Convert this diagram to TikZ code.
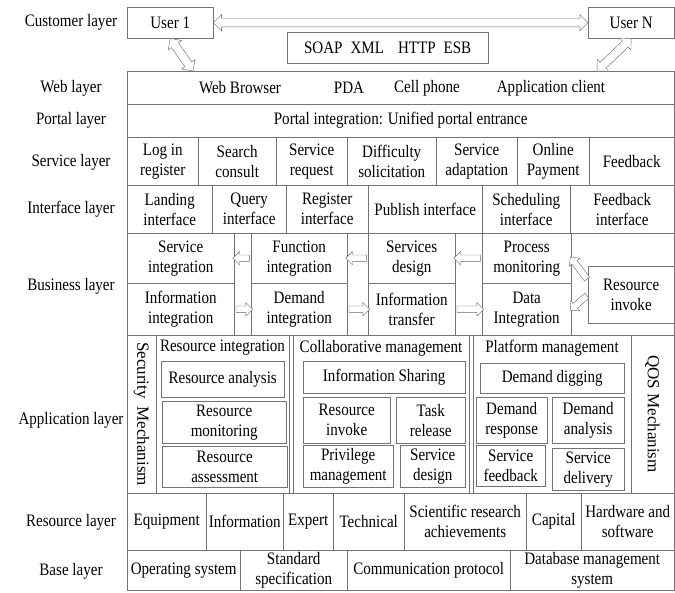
\documentclass[tikz,border=0pt]{standalone}
\usepackage{fontspec}
\setmainfont[FakeStretch=0.86]{Liberation Serif}
\newfontfamily\sidefont{Liberation Serif}
\usetikzlibrary{calc,shapes.arrows,shadows}

\tikzset{
  cell/.style={draw=black!55, inner sep=0pt, align=center, anchor=north west},
  box/.style={cell, fill=white, drop shadow={shadow xshift=1pt, shadow yshift=-1pt, fill=black!30}},
  layer/.style={align=center},
  fatarrow/.style={draw=black!60, fill=white, single arrow, single arrow head extend=3.5pt, single arrow tip angle=90, inner sep=3pt},
  twinarrow/.style={draw=black!60, fill=white, double arrow, double arrow head extend=4pt, double arrow tip angle=90, inner sep=4pt}
}

% hollow arrow laid from one point to another
\newcommand{\fatlink}[3][fatarrow]{%
  \path let \p1=($(#3)-(#2)$) in (#2) -- node[#1, sloped, allow upside down, minimum height={veclen(\x1,\y1)}] {} (#3);}

\begin{document}
\begin{tikzpicture}[x=1pt, y=-1pt, font=\fontsize{17.5}{20}\selectfont]
  \useasboundingbox (0,0) rectangle (675,592);

  % layer names
  \node[layer] (lcustomer) at (71,22.5) {Customer layer};
  \node[layer] (lweb) at (71,88) {Web layer};
  \node[layer] (lportal) at (71,120) {Portal layer};
  \node[layer] (lservice) at (71,162) {Service layer};
  \node[layer] (linterface) at (71,209) {Interface layer};
  \node[layer] (lbusiness) at (71,286) {Business layer};
  \node[layer] (lapplication) at (71,420) {Application layer};
  \node[layer] (lresource) at (71,522) {Resource layer};
  \node[layer] (lbase) at (71,571) {Base layer};

  % customers
  \node[cell, minimum width=86, minimum height=31] (user1) at (127,7) {User 1};
  \node[cell, minimum width=86, minimum height=31] (userN) at (588,7) {User N};
  \node[cell, minimum width=201, minimum height=31] (soap) at (287,32) {SOAP\hspace{8pt}XML\hspace{14pt}HTTP\hspace{8pt}ESB};

  % web and portal
  \node[cell, minimum width=547, minimum height=33] (webrow) at (127,71) {};
  \node (browser) at (240,88) {Web Browser};
  \node (pda) at (349,88) {PDA};
  \node (cellphone) at (427,88) {Cell phone};
  \node (appclient) at (551,88) {Application client};
  \node[cell, minimum width=547, minimum height=33] (portal) at (127,104) {Portal integration: Unified portal entrance};

  % service layer
  \node[cell, minimum width=71, minimum height=48] (login) at (127,137) {Log in\\register};
  \node[cell, minimum width=78, minimum height=48] (search) at (198,137) {Search\\consult};
  \node[cell, minimum width=71, minimum height=48] (servreq) at (276,137) {Service\\request};
  \node[cell, minimum width=89, minimum height=48] (difficulty) at (347,137) {Difficulty\\solicitation};
  \node[cell, minimum width=81, minimum height=48] (adapt) at (436,137) {Service\\adaptation};
  \node[cell, minimum width=72, minimum height=48] (payment) at (517,137) {Online\\Payment};
  \node[cell, minimum width=85, minimum height=48] (feedback) at (589,137) {Feedback};

  % interface layer
  \node[cell, minimum width=85, minimum height=48] (landing) at (127,185) {Landing\\interface};
  \node[cell, minimum width=74, minimum height=48] (query) at (212,185) {Query\\interface};
  \node[cell, minimum width=82, minimum height=48] (register) at (286,185) {Register\\interface};
  \node[cell, minimum width=114, minimum height=48] (publish) at (368,185) {Publish interface};
  \node[cell, minimum width=88, minimum height=48] (sched) at (482,185) {Scheduling\\interface};
  \node[cell, minimum width=104, minimum height=48] (fbiface) at (570,185) {Feedback\\interface};

  % business layer
  \node[cell, minimum width=547, minimum height=102] (bizframe) at (127,233) {};
  \node[cell, minimum width=107, minimum height=50] (servint) at (127,233) {Service\\integration};
  \node[cell, minimum width=107, minimum height=52] (infoint) at (127,283) {Information\\integration};
  \node[cell, minimum width=96, minimum height=50] (funint) at (251,233) {Function\\integration};
  \node[cell, minimum width=96, minimum height=52] (demint) at (251,283) {Demand\\integration};
  \node[cell, minimum width=87, minimum height=50] (servdes) at (368,233) {Services\\design};
  \node[cell, minimum width=87, minimum height=52] (inftrans) at (368,283) {Information\\transfer};
  \node[cell, minimum width=89, minimum height=50] (procmon) at (482,233) {Process\\monitoring};
  \node[cell, minimum width=89, minimum height=52] (dataint) at (482,283) {Data\\Integration};
  \node[box, minimum width=86, minimum height=57] (resinvoke) at (588,266) {Resource\\invoke};
  \coordinate (riup) at ($(resinvoke.west)!0.5!(resinvoke.north west)$);

  % application layer
  \node[cell, minimum width=547, minimum height=158] (appframe) at (127,335) {};
  \node[cell, minimum width=29, minimum height=158] (seccol) at (127,335) {};
  \node[cell, minimum width=133, minimum height=158] (resintcol) at (156,335) {};
  \node[cell, minimum width=176, minimum height=158] (collabcol) at (293,335) {};
  \node[cell, minimum width=158, minimum height=158] (platcol) at (473,335) {};
  \node[cell, minimum width=43, minimum height=158] (qoscol) at (631,335) {};
  \node[rotate=-90, font=\sidefont\fontsize{17}{20}\selectfont] (secmech) at (141.5,414) {Security\hspace{8pt}Mechanism};
  \node[rotate=-90, font=\sidefont\fontsize{17}{20}\selectfont] (qosmech) at (652.5,414) {QOS Mechanism};
  \node (resinthead) at (222.5,348) {Resource integration};
  \node (collabhead) at (381,348) {Collaborative management};
  \node (plathead) at (552,348) {Platform management};

  \node[box, minimum width=123, minimum height=36] (resanalysis) at (161,361) {Resource analysis};
  \node[box, minimum width=124, minimum height=42] (resmonitor) at (162,401) {Resource\\monitoring};
  \node[box, minimum width=125, minimum height=41] (resassess) at (162,446) {Resource\\assessment};
  \node[box, minimum width=162, minimum height=32] (infoshare) at (303,361) {Information Sharing};
  \node[box, minimum width=87, minimum height=46] (appinvoke) at (303,397) {Resource\\invoke};
  \node[box, minimum width=69, minimum height=46] (taskrel) at (396,397) {Task\\release};
  \node[box, minimum width=90, minimum height=42] (privilege) at (303,445) {Privilege\\management};
  \node[box, minimum width=65, minimum height=42] (servdesign) at (400,445) {Service\\design};
  \node[box, minimum width=144, minimum height=30] (demdig) at (480,363) {Demand digging};
  \node[box, minimum width=71, minimum height=46] (demresp) at (476,397) {Demand\\response};
  \node[box, minimum width=72, minimum height=46] (demanal) at (552,397) {Demand\\analysis};
  \node[box, minimum width=69, minimum height=41] (servfeed) at (476,445) {Service\\feedback};
  \node[box, minimum width=72, minimum height=42] (servdeliv) at (552,448) {Service\\delivery};

  % resource layer
  \node[cell, minimum width=79, minimum height=57] (equip) at (127,493) {Equipment};
  \node[cell, minimum width=77, minimum height=57] (information) at (206,493) {Information};
  \node[cell, minimum width=50, minimum height=57] (expert) at (283,493) {Expert};
  \node[cell, minimum width=71, minimum height=57] (technical) at (333,493) {Technical};
  \node[cell, minimum width=122, minimum height=57] (scientific) at (404,493) {Scientific research\\achievements};
  \node[cell, minimum width=55, minimum height=57] (capital) at (526,493) {Capital};
  \node[cell, minimum width=93, minimum height=57] (hardware) at (581,493) {Hardware and\\software};

  % base layer
  \node[cell, minimum width=113, minimum height=40] (opsys) at (127,550) {Operating system};
  \node[cell, minimum width=107, minimum height=40] (standard) at (240,550) {Standard\\specification};
  \node[cell, minimum width=163, minimum height=40] (commproto) at (347,550) {Communication protocol};
  \node[cell, minimum width=164, minimum height=40] (dbms) at (510,550) {Database management\\system};

  % hollow arrows
  \coordinate (w1) at (193,71);
  \coordinate (wN) at (597,71);
  \fatlink[twinarrow]{user1.east}{userN.west}
  \fatlink[twinarrow]{user1.south}{w1}
  \fatlink[twinarrow]{userN.south}{wN}
  \fatlink{funint.west}{servint.east}
  \fatlink{servdes.west}{funint.east}
  \fatlink{procmon.west}{servdes.east}
  \fatlink{infoint.east}{demint.west}
  \fatlink{demint.east}{inftrans.west}
  \fatlink{inftrans.east}{dataint.west}
  \fatlink{riup}{procmon.east}
  \fatlink{resinvoke.west}{dataint.east}
\end{tikzpicture}
\end{document}
